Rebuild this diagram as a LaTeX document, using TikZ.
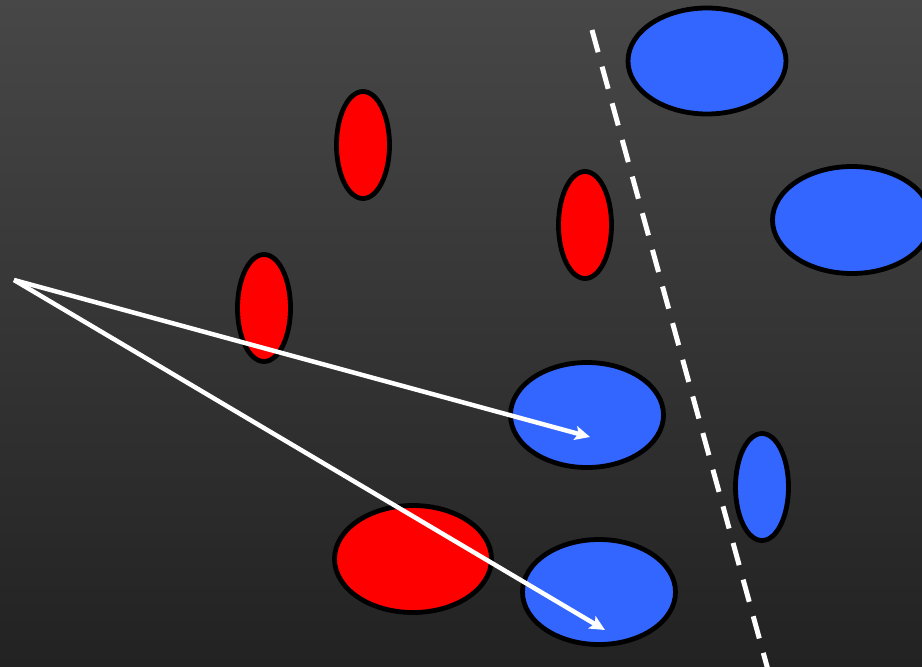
\documentclass[tikz,border=0pt]{standalone}
\usepackage{tikz}
\usetikzlibrary{arrows.meta,shapes.geometric}

\definecolor{bgtop}{HTML}{474747}
\definecolor{bgbot}{HTML}{222222}
\definecolor{clsred}{HTML}{FF0000}
\definecolor{clsblue}{HTML}{3366FF}

\tikzset{
  blob/.style={ellipse,draw=black,line width=4.8pt,inner sep=0pt},
  redblob/.style={blob,fill=clsred},
  blueblob/.style={blob,fill=clsblue},
  vec/.style={draw=white,line width=4.5pt,-{Stealth[length=15pt,width=14pt,inset=3pt]}},
  margin/.style={draw=white,line width=5pt,dash pattern=on 23pt off 15pt}
}

\begin{document}
\begin{tikzpicture}[x=1pt,y=-1pt,line join=round]
  \shade[top color=bgtop,bottom color=bgbot] (0,0) rectangle (922,667);
  \useasboundingbox (0,0) rectangle (922,667);
  \begin{scope}
    \clip (0,0) rectangle (922,667);
    % red class
    \node[redblob,minimum width=53pt,minimum height=107pt] (r1) at (363,145) {};
    \node[redblob,minimum width=53pt,minimum height=107pt] (r2) at (585,225) {};
    \node[redblob,minimum width=53pt,minimum height=107pt] (r3) at (264,308) {};
    \node[redblob,minimum width=157pt,minimum height=107pt] (r4) at (413,559) {};
    % blue class
    \node[blueblob,minimum width=158pt,minimum height=106pt] (b1) at (707,61) {};
    \node[blueblob,minimum width=159pt,minimum height=107pt] (b2) at (852,220) {};
    \node[blueblob,minimum width=153pt,minimum height=105pt] (b3) at (587,415) {};
    \node[blueblob,minimum width=153pt,minimum height=105pt] (b4) at (599,592) {};
    \node[blueblob,minimum width=53pt,minimum height=107pt] (b5) at (762,487) {};
    % separating line
    \coordinate (m1) at (592,30);
    \coordinate (m2) at (768,670);
    \draw[margin] (m1) -- (m2);
    % vectors
    \coordinate (o) at (14,280);
    \coordinate (t1) at (590,437);
    \coordinate (t2) at (605,630);
    \draw[vec] (o) -- (t1);
    \draw[vec] (o) -- (t2);
  \end{scope}
\end{tikzpicture}
\end{document}
